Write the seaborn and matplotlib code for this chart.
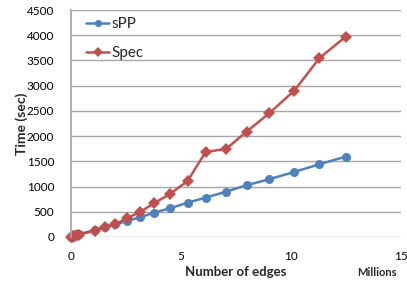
import matplotlib
matplotlib.use("Agg")
import matplotlib.pyplot as plt
import seaborn as sns
import pandas as pd

# Data (x in millions of edges, time in seconds)
edges = [0.01, 0.03, 0.06, 0.1, 0.15, 0.2, 0.27, 0.35, 1.09, 1.55, 2.0, 2.53, 3.14, 3.77, 4.5,
         5.3, 6.12, 7.05, 7.98, 9.01, 10.15, 11.29, 12.49]
spp = [2, 5, 10, 15, 22, 30, 40, 55, 140, 195, 250, 317, 390, 482, 569,
       681, 780, 899, 1026, 1145, 1290, 1442, 1594]
spec = [2, 4, 8, 12, 18, 25, 35, 45, 125, 192, 252, 370, 496, 668, 853,
        1111, 1687, 1746, 2089, 2454, 2903, 3546, 3974]
series_names = ["sPP", "Spec"]
x_ticks = [0, 5, 10, 15]
y_ticks = [0, 500, 1000, 1500, 2000, 2500, 3000, 3500, 4000, 4500]

sns.set_theme(style="white")
plt.rcParams['font.family'] = ['Lato', 'DejaVu Sans']

df = pd.DataFrame({
    "edges": edges * 2,
    "time": spp + spec,
    "series": [series_names[0]] * len(edges) + [series_names[1]] * len(edges),
})

fig = plt.figure(figsize=(4.07, 2.82), dpi=100)
ax = fig.add_axes([0.1744, 0.1596, 0.8110, 0.8049])

palette = {"sPP": "#4F81BD", "Spec": "#C0504D"}
sns.lineplot(data=df, x="edges", y="time", hue="series", style="series",
             markers={"sPP": "o", "Spec": "D"}, dashes=False, palette=palette,
             markersize=6.5, linewidth=1.8, markeredgewidth=0, ax=ax)
for ln in ax.lines:
    ln.set_clip_on(False)

ax.set_xlim(0, 15)
ax.set_ylim(0, 4500)
ax.set_xticks(x_ticks)
ax.set_yticks(y_ticks)
ax.yaxis.grid(True, color="#A6A6A6", linewidth=1)
ax.set_axisbelow(True)
for s in ["top", "right", "bottom"]:
    ax.spines[s].set_visible(False)
ax.spines["left"].set_color("#A6A6A6")
ax.tick_params(axis="both", labelsize=8.5, length=0)
ax.tick_params(axis="y", pad=12)
ax.tick_params(axis="x", pad=10)
for lbl in ax.get_xticklabels() + ax.get_yticklabels():
    lbl.set_color("black")

ax.set_xlabel("Number of edges", fontsize=9.5, fontweight="bold", labelpad=3)
ax.set_ylabel("Time (sec)", fontsize=10, fontweight="bold")
ax.yaxis.set_label_coords(-0.13, 0.5)
ax.text(0.927, -0.155, "Millions", transform=ax.transAxes, fontsize=8,
        fontweight="bold", ha="center", va="center")

leg = ax.legend(loc="upper left", bbox_to_anchor=(0.005, 1.03), frameon=False,
                fontsize=11, handlelength=1.5, handletextpad=0.15, labelspacing=1.0,
                markerscale=0.8)

fig.savefig("out.png", dpi=100)
